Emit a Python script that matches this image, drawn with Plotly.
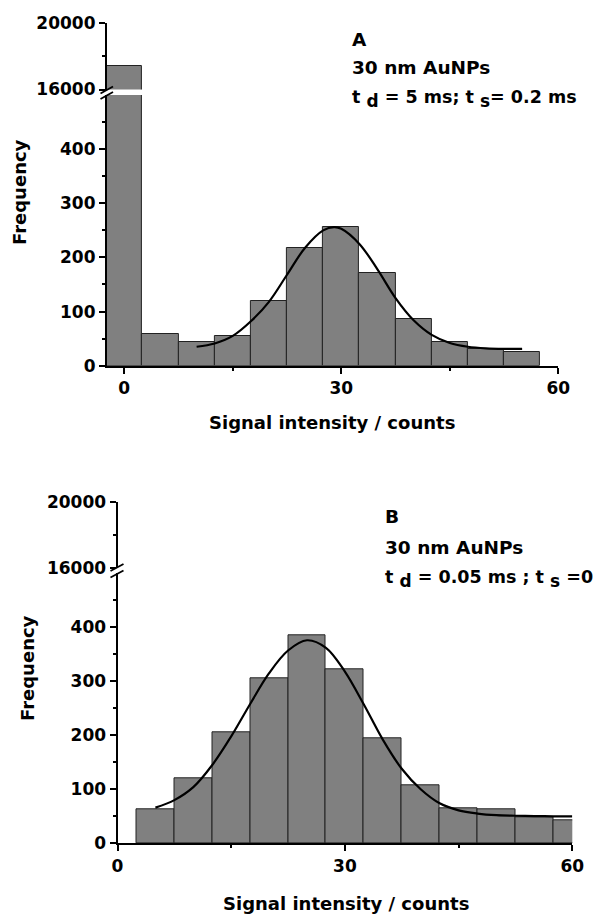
import plotly.graph_objects as go

# ---------------- data ----------------
top_bin_centers = [0, 5, 10, 15, 20, 25, 30, 35, 40, 45, 50, 55]
top_counts = [17400, 58, 43, 54, 120, 217, 256, 171, 86, 43, 30, 26]
top_fit_x = [10, 12.5, 15, 17.5, 20, 22.5, 25, 27.5, 29, 30, 32.5, 35, 37.5, 40, 42.5, 45, 47.5, 50, 52.5, 55]
top_fit_y = [35, 41, 55, 82, 118, 168, 218, 250, 256, 253, 225, 178, 125, 84, 57, 42, 35, 32, 31, 31]

bot_bin_centers = [5, 10, 15, 20, 25, 30, 35, 40, 45, 50, 55, 60]
bot_counts = [63, 121, 206, 306, 386, 322, 194, 107, 64, 63, 49, 42]
bot_fit_x = [5, 7.5, 10, 12.5, 15, 17.5, 20, 22.5, 25, 27.5, 30, 32.5, 35, 37.5, 40, 42.5, 45, 47.5, 50, 52.5, 55, 57.5, 60]
bot_fit_y = [66, 80, 104, 145, 198, 258, 315, 357, 376, 362, 318, 257, 192, 138, 100, 74, 61, 55, 52, 51, 50.5, 50, 50]

low_ticks = [0, 100, 200, 300, 400]
low_minor = [50, 150, 250, 350, 450]
up_ticks = [16000, 20000]
up_minor = [18000]
x_ticks = [0, 30, 60]
x_minor = [15, 45]

# page is 603x915; the html body has an 8px margin, so the figure is 8px smaller
OFF = 8
W, H = 603 - OFF, 915 - OFF
FONT = "DejaVu Sans"
BAR_COLOR = "#808080"


def px(x):
    return (x - OFF) / W


def py(y):
    return 1 - (y - OFF) / H


fig = go.Figure()

bar_style = dict(marker=dict(color=BAR_COLOR, line=dict(color="#222222", width=1)), width=5, showlegend=False)
fit_style = dict(mode="lines", line=dict(color="black", width=2.2, shape="spline"), showlegend=False)

# top panel
fig.add_trace(go.Bar(x=top_bin_centers, y=top_counts, xaxis="x", yaxis="y", **bar_style))
fig.add_trace(go.Bar(x=top_bin_centers, y=top_counts, xaxis="x", yaxis="y2", **bar_style))
fig.add_trace(go.Scatter(x=top_fit_x, y=top_fit_y, xaxis="x", yaxis="y", **fit_style))
# bottom panel
fig.add_trace(go.Bar(x=bot_bin_centers, y=bot_counts, xaxis="x2", yaxis="y3", **bar_style))
fig.add_trace(go.Bar(x=bot_bin_centers, y=bot_counts, xaxis="x2", yaxis="y4", **bar_style))
fig.add_trace(go.Scatter(x=bot_fit_x, y=bot_fit_y, xaxis="x2", yaxis="y3", **fit_style))

tickfont = dict(family=FONT, size=17, color="black", weight="bold")
common = dict(showline=True, linecolor="black", linewidth=2, ticks="outside", ticklen=6,
              tickwidth=2, tickcolor="black", showgrid=False, zeroline=False,
              tickfont=tickfont, automargin=False, fixedrange=True)
minor_common = dict(ticks="outside", ticklen=3, tickwidth=2, tickcolor="black", showgrid=False)

fig.update_layout(
    width=W, height=H,
    margin=dict(l=0, r=0, t=0, b=0),
    paper_bgcolor="white", plot_bgcolor="white",
    bargap=0,
    xaxis=dict(domain=[px(106.9), px(558.3)], range=[-2.4, 60], anchor="y",
               tickmode="array", tickvals=x_ticks,
               minor=dict(tickmode="array", tickvals=x_minor, **minor_common), **common),
    yaxis=dict(domain=[py(365.7), py(95)], range=[0, 500], anchor="x",
               tickmode="array", tickvals=low_ticks,
               minor=dict(tickmode="array", tickvals=low_minor, **minor_common), **common),
    yaxis2=dict(domain=[py(89.5), py(23)], range=[16000, 20000], anchor="x",
                tickmode="array", tickvals=up_ticks, tickformat="d",
                minor=dict(tickmode="array", tickvals=up_minor, **minor_common), **common),
    xaxis2=dict(domain=[px(117.5), px(572.3)], range=[0, 60], anchor="y3",
                tickmode="array", tickvals=x_ticks,
                minor=dict(tickmode="array", tickvals=x_minor, **minor_common), **common),
    yaxis3=dict(domain=[py(843.3), py(573.3)], range=[0, 500], anchor="x2",
                tickmode="array", tickvals=low_ticks,
                minor=dict(tickmode="array", tickvals=low_minor, **minor_common), **common),
    yaxis4=dict(domain=[py(568.3), py(502.3)], range=[16000, 20000], anchor="x2",
                tickmode="array", tickvals=up_ticks, tickformat="d",
                minor=dict(tickmode="array", tickvals=up_minor, **minor_common), **common),
)

# axis-break marks
breaks = [
    ((100.5, 93.5), (113, 86.5)), ((100.5, 99), (113, 92)),
    ((110.5, 571), (123.5, 564)), ((110.5, 577.5), (123.5, 570.5)),
]
for (x0, y0), (x1, y1) in breaks:
    fig.add_shape(type="line", xref="paper", yref="paper", x0=px(x0), y0=py(y0), x1=px(x1), y1=py(y1),
                  line=dict(color="black", width=1.8))

afont = dict(family=FONT, size=18.5, color="black", weight="bold")
afont3 = dict(family=FONT, size=17.5, color="black", weight="bold")
tfont = dict(family=FONT, size=18, color="black", weight="bold")

SUB = '<sub><span style="font-size:17px">{}</span></sub>'

ann = [
    dict(text="A", x=px(350), y=py(39.3), font=afont),
    dict(text="30 nm AuNPs", x=px(350), y=py(67.6), font=afont),
    dict(text="t " + SUB.format("d") + " = 5 ms; t " + SUB.format("s") + "= 0.2 ms",
         x=px(350), y=py(99), font=afont3),
    dict(text="B", x=px(383.3), y=py(516.9), font=afont),
    dict(text="30 nm AuNPs", x=px(383.3), y=py(547.6), font=afont),
    dict(text="t " + SUB.format("d") + " = 0.05 ms ; t " + SUB.format("s") + " =0",
         x=px(383.3), y=py(579), font=afont3),
]
for a in ann:
    fig.add_annotation(xref="paper", yref="paper", xanchor="left", yanchor="middle",
                       showarrow=False, align="left", **a)

titles = [
    dict(text="Frequency", x=px(20), y=py(192), textangle=-90),
    dict(text="Frequency", x=px(27), y=py(668), textangle=-90),
    dict(text="Signal intensity / counts", x=px(332), y=py(422.6)),
    dict(text="Signal intensity / counts", x=px(345.5), y=py(903.6)),
]
for t in titles:
    fig.add_annotation(xref="paper", yref="paper", xanchor="center", yanchor="middle",
                       showarrow=False, font=tfont, **t)

fig.write_html("out.html")
